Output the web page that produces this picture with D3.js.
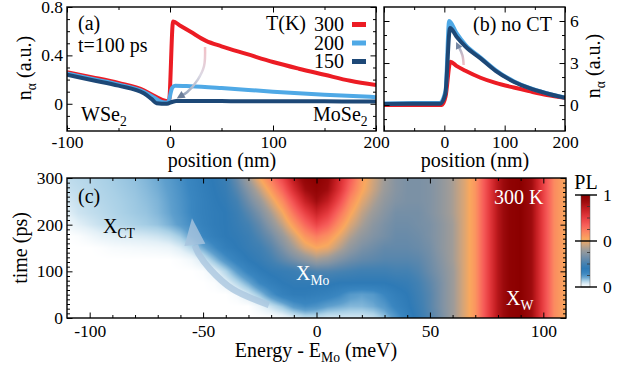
<!DOCTYPE html>
<html lang="en">
<head>
<meta charset="UTF-8">
<title>Exciton density and PL map</title>
<script src="https://d3js.org/d3.v7.min.js"></script>
<style>
  body { margin: 0; background: #fff; }
  svg { font-family: "Liberation Serif", "Times New Roman", serif; }
  .frame { fill: none; stroke: #000; stroke-width: 1.4px; }
  .ax text { font-size: 17.5px; fill: #000; }
  .ax line { stroke: #000; stroke-width: 1px; }
</style>
</head>
<body>
<svg id="fig" width="623" height="366"></svg>
<script>
// ---------- panel (a): density at t = 100 ps (with charge transfer) ----------
const posA300 = [-100, -75, -50, -25, -15, -5, -1, 3, 10, 20, 35, 50, 75, 100, 125, 150, 175, 200];
const nA300   = [0.26, 0.218, 0.172, 0.11, 0.063, 0.025, 0.02, 0.68, 0.645, 0.595, 0.52, 0.475, 0.41, 0.345, 0.29, 0.24, 0.19, 0.155];
const posA200 = [-100, -75, -50, -25, -15, -8, -2, 2, 5, 20, 50, 100, 150, 200];
const nA200   = [0.25, 0.205, 0.16, 0.098, 0.05, 0.015, 0.01, 0.13, 0.15, 0.145, 0.13, 0.1, 0.075, 0.055];
const posA150 = [-100, -75, -50, -25, -18, -13, -3, 2, 6, 50, 100, 150, 200];
const nA150   = [0.24, 0.195, 0.15, 0.085, 0.04, 0.005, 0.0, 0.015, 0.022, 0.022, 0.02, 0.02, 0.018];

// ---------- panel (b): no charge transfer ----------
const posB300 = [-100, -50, -4, 2, 10, 20, 35, 60, 85, 115, 140, 170, 200];
const nB300   = [0.0, 0.0, 0.0, 0.6, 3.1, 2.8, 2.45, 1.95, 1.58, 1.25, 1.0, 0.72, 0.52];
const posB200 = [-100, -50, -8, 2, 8, 20, 35, 60, 85, 115, 140, 170, 200];
const nB200   = [0.12, 0.14, 0.15, 1.0, 6.0, 5.15, 4.3, 3.4, 2.5, 1.7, 1.24, 0.85, 0.53];
const posB150 = [-100, -50, -7, 1.5, 9.5, 20, 35, 60, 85, 115, 140, 170, 200];
const nB150   = [0.08, 0.1, 0.1, 0.75, 5.5, 4.9, 4.18, 3.33, 2.44, 1.67, 1.22, 0.83, 0.52];

const temps = ["300", "200", "150"];
const tempColors = ["#ec1c24", "#4fa9e6", "#1d4877"];

// ---------- panel (c): PL map at 300 K ----------
const energies = d3.range(-110, 110.1, 5);          // meV, 45 columns
const times = [0, 25, 50, 75, 100, 125, 150, 175, 200, 225, 250, 275, 300]; // ps
const plRows = [
  // t = 0
  [0,0,0,0,0,0,0,0,0,0,0,0,0,0,0,0, 0,0,0,0.01,0.03,0.05,0.05,0.04,0.04,0.04,0.04,0.05,0.08,0.12, 0.17,0.22,0.27,0.33,0.4,0.48,0.56,0.72,0.88,0.98,1.0,0.92,0.74,0.58,0.52],
  // t = 25
  [0,0,0,0,0,0,0,0,0,0,0,0,0,0,0,0, 0,0.02,0.05,0.08,0.12,0.14,0.13,0.11,0.1,0.09,0.09,0.1,0.12,0.16, 0.19,0.23,0.28,0.34,0.4,0.48,0.56,0.72,0.88,0.98,1.0,0.92,0.74,0.58,0.52],
  // t = 50
  [0,0,0,0,0,0,0,0,0,0,0,0,0,0,0,0.01, 0.04,0.08,0.13,0.17,0.19,0.19,0.18,0.17,0.15,0.12,0.11,0.12,0.15,0.18, 0.2,0.24,0.28,0.34,0.4,0.48,0.56,0.72,0.88,0.98,1.0,0.92,0.74,0.58,0.52],
  // t = 75
  [0,0,0,0,0,0,0,0,0,0,0,0,0,0.005,0.025,0.06, 0.1,0.15,0.18,0.2,0.21,0.21,0.21,0.21,0.2,0.2,0.2,0.2,0.2,0.21, 0.22,0.25,0.29,0.34,0.4,0.48,0.56,0.72,0.88,0.98,1.0,0.92,0.74,0.58,0.52],
  // t = 100
  [0,0,0,0,0,0,0,0,0,0,0,0,0.005,0.025,0.065,0.115, 0.16,0.19,0.21,0.22,0.23,0.25,0.27,0.27,0.26,0.25,0.24,0.24,0.24,0.25, 0.25,0.27,0.31,0.35,0.4,0.48,0.56,0.72,0.88,0.98,1.0,0.92,0.74,0.58,0.52],
  // t = 125
  [0,0,0,0,0,0,0,0,0,0,0.005,0.015,0.04,0.085,0.13,0.17, 0.2,0.22,0.25,0.29,0.33,0.37,0.41,0.39,0.35,0.32,0.3,0.29,0.28,0.28, 0.28,0.29,0.32,0.36,0.41,0.48,0.56,0.72,0.88,0.98,1.0,0.92,0.74,0.58,0.52],
  // t = 150
  [0,0,0,0.003,0.008,0.01,0.012,0.014,0.016,0.02,0.035,0.06,0.1,0.14,0.18,0.2, 0.22,0.24,0.28,0.34,0.41,0.48,0.52,0.5,0.44,0.38,0.34,0.32,0.3,0.3, 0.3,0.31,0.33,0.37,0.41,0.48,0.56,0.72,0.88,0.98,1.0,0.92,0.74,0.58,0.52],
  // t = 175
  [0,0.005,0.015,0.025,0.03,0.035,0.037,0.04,0.045,0.055,0.075,0.11,0.15,0.18,0.2,0.21, 0.23,0.27,0.32,0.39,0.47,0.56,0.61,0.57,0.5,0.43,0.38,0.35,0.33,0.31, 0.31,0.32,0.34,0.37,0.41,0.48,0.56,0.72,0.88,0.98,1.0,0.92,0.74,0.58,0.52],
  // t = 200
  [0.015,0.03,0.04,0.05,0.058,0.063,0.068,0.073,0.08,0.095,0.115,0.14,0.17,0.19,0.2,0.22, 0.25,0.3,0.37,0.45,0.55,0.65,0.73,0.67,0.57,0.48,0.42,0.37,0.34,0.32, 0.32,0.33,0.34,0.37,0.41,0.48,0.56,0.72,0.88,0.98,1.0,0.92,0.74,0.58,0.52],
  // t = 225
  [0.03,0.045,0.052,0.058,0.064,0.07,0.075,0.08,0.09,0.105,0.125,0.15,0.175,0.19,0.2,0.23, 0.28,0.34,0.42,0.51,0.63,0.74,0.83,0.76,0.64,0.53,0.45,0.4,0.36,0.33, 0.33,0.33,0.35,0.38,0.42,0.48,0.56,0.72,0.88,0.98,1.0,0.92,0.74,0.58,0.52],
  // t = 250
  [0.04,0.05,0.056,0.062,0.067,0.072,0.077,0.084,0.093,0.108,0.128,0.15,0.175,0.195,0.21,0.25, 0.32,0.39,0.48,0.58,0.71,0.84,0.92,0.85,0.72,0.58,0.49,0.43,0.38,0.35, 0.34,0.34,0.35,0.38,0.42,0.48,0.56,0.72,0.88,0.98,1.0,0.92,0.74,0.58,0.52],
  // t = 275
  [0.05,0.055,0.06,0.065,0.07,0.075,0.08,0.088,0.098,0.112,0.132,0.155,0.18,0.2,0.22,0.28, 0.36,0.45,0.55,0.66,0.8,0.92,0.97,0.92,0.79,0.64,0.53,0.46,0.4,0.36, 0.34,0.34,0.35,0.38,0.42,0.48,0.56,0.72,0.88,0.98,1.0,0.92,0.74,0.58,0.52],
  // t = 300
  [0.055,0.06,0.063,0.068,0.073,0.078,0.083,0.092,0.102,0.117,0.137,0.16,0.185,0.205,0.23,0.31, 0.41,0.52,0.62,0.73,0.87,0.97,1.0,0.95,0.82,0.68,0.55,0.47,0.41,0.36, 0.34,0.34,0.35,0.38,0.42,0.48,0.56,0.72,0.88,0.98,1.0,0.92,0.74,0.58,0.52]
];

// colour map of the PL panel
const cmapStops  = [0, 0.03, 0.07, 0.11, 0.15, 0.2, 0.25, 0.3, 0.35, 0.41, 0.47, 0.52, 0.6, 0.68, 0.76, 0.85, 0.93, 1];
const cmapColors = ["#ffffff", "#e3f0f7", "#a9d0e6", "#5e9fcd", "#3a86c0", "#2e7ab6", "#4381b2", "#6389aa", "#8193a4",
                    "#a09c98", "#d2a47a", "#f9a85e", "#fb8360", "#f65b58", "#e53a3e", "#c41e22", "#9c0a0c", "#8b0000"];
const plColor = d3.scaleLinear().domain(cmapStops).range(cmapColors).clamp(true);

const svg = d3.select("#fig");
const defs = svg.append("defs");

const xA = d3.scaleLinear().domain([-100, 200]).range([67, 376]);
const yA = d3.scaleLinear().domain([-0.225, 0.8]).range([131, 7]);
const xB = d3.scaleLinear().domain([-100, 200]).range([384, 565]);
const yB = d3.scaleLinear().domain([-1.85, 7]).range([131, 7]);
const xC = d3.scaleLinear().domain([-110, 110]).range([67, 566]);
const yC = d3.scaleLinear().domain([0, 300]).range([318, 178]);

const fmt = d => String(d);

// inward ticks on all four sides of a frame
function frame(x, y, o) {
  const [x0, x1] = x.range(), [y0, y1] = [y.range()[1], y.range()[0]];
  const g = svg.append("g").attr("class", "ax");
  const sides = [
    [d3.axisBottom, x, y1, o.xMajor, o.xMinor, o.xLabels ? fmt : "", o.xPad, true],
    [d3.axisTop, x, y0, o.xMajor, o.xMinor, "", 0, true],
    [d3.axisLeft, y, x0, o.yMajor, o.yMinor, o.yLeft ? fmt : "", 4, false],
    [d3.axisRight, y, x1, o.yMajor, o.yMinor, o.yRight ? fmt : "", 5, false]
  ];
  sides.forEach(([ax, sc, off, major, minor, f, pad, horiz]) => {
    const tr = horiz ? `translate(0,${off})` : `translate(${off},0)`;
    g.append("g").attr("transform", tr)
      .call(ax(sc).tickValues(minor).tickSize(-3).tickFormat(""))
      .call(s => s.select(".domain").remove())
      .call(s => s.selectAll("text").remove());
    const m = g.append("g").attr("transform", tr)
      .call(ax(sc).tickValues(major).tickSize(-5.5).tickPadding(pad).tickFormat(f))
      .call(s => s.select(".domain").remove());
    m.attr("font-size", null).attr("font-family", null);
    if (f === "") m.selectAll("text").remove();
    if (o.hideLabels) m.selectAll("text").filter(d => o.hideLabels.includes(d)).remove();
  });
  svg.append("rect").attr("class", "frame")
    .attr("x", x0).attr("y", y0).attr("width", x1 - x0).attr("height", y1 - y0);
}

function clip(id, x, y) {
  defs.append("clipPath").attr("id", id).append("rect")
    .attr("x", x.range()[0]).attr("y", y.range()[1])
    .attr("width", x.range()[1] - x.range()[0]).attr("height", y.range()[0] - y.range()[1]);
}

function text(x, y, str, size, opt = {}) {
  const t = svg.append("text").attr("x", x).attr("y", y).attr("font-size", size)
    .attr("fill", opt.fill || "#000").style("white-space", "pre");
  if (opt.anchor) t.attr("text-anchor", opt.anchor);
  if (opt.transform) t.attr("transform", opt.transform);
  (Array.isArray(str) ? str : [[str]]).forEach(([s, kind]) => {
    const sp = t.append("tspan").text(s);
    if (kind === "sub") sp.attr("font-size", size * 0.68).attr("dy", size * 0.25);
    if (kind === "up") sp.attr("dy", -size * 0.25);
  });
  return t;
}

function arrowHead(g, tip, from, len, hw, fill) {
  const dx = tip[0] - from[0], dy = tip[1] - from[1], L = Math.hypot(dx, dy);
  const ux = dx / L, uy = dy / L;
  const bx = tip[0] - ux * len, by = tip[1] - uy * len;
  g.append("path").attr("fill", fill)
    .attr("d", `M${tip[0]},${tip[1]}L${bx - uy * hw},${by + ux * hw}L${bx + uy * hw},${by - ux * hw}Z`);
}

// ================= panel (a) =================
clip("clipA", xA, yA);
const lineA = d3.line().x(d => xA(d[0])).y(d => yA(d[1])).curve(d3.curveMonotoneX);
const gA = svg.append("g").attr("clip-path", "url(#clipA)");
[[posA300, nA300], [posA200, nA200], [posA150, nA150]].forEach(([p, n], i) => {
  gA.append("path").attr("fill", "none").attr("stroke", tempColors[i]).attr("stroke-width", 4)
    .attr("stroke-linejoin", "round").attr("d", lineA(d3.zip(p, n)));
});

// faded transfer arrow (a)
const arrA = [[34, 0.47], [33, 0.31], [27, 0.2], [16.5, 0.095], [10.5, 0.065]].map(d => [xA(d[0]), yA(d[1])]);
const gradA = defs.append("linearGradient").attr("id", "gradA").attr("gradientUnits", "userSpaceOnUse")
  .attr("x1", arrA[0][0]).attr("y1", arrA[0][1]).attr("x2", arrA[4][0]).attr("y2", arrA[4][1]);
gradA.append("stop").attr("offset", 0).attr("stop-color", "#f3c0c6");
gradA.append("stop").attr("offset", 0.5).attr("stop-color", "#dcd9e4");
gradA.append("stop").attr("offset", 1).attr("stop-color", "#8f9fb8");
svg.append("path").attr("fill", "none").attr("stroke", "url(#gradA)").attr("stroke-width", 2.5)
  .attr("d", d3.line().curve(d3.curveCatmullRom)(arrA));
arrowHead(svg, [xA(6.5), yA(0.043)], arrA[3], 8, 4, "#6d7f9b");

frame(xA, yA, {
  xMajor: [-100, 0, 100, 200], xMinor: [-50, 50, 150], xLabels: true, xPad: 5,
  yMajor: [0, 0.4, 0.8], yMinor: [-0.2, -0.1, 0.1, 0.2, 0.3, 0.5, 0.6, 0.7], yLeft: true
});

text(78, 30, "(a)", 20);
text(78, 52, "t=100 ps", 20);
text(81, 121, [["WSe"], ["2", "sub"]], 20);
text(313, 121, [["MoSe"], ["2", "sub"]], 20);
text(306, 30, "T(K)", 20, { anchor: "end" });
temps.forEach((t, i) => {
  const yy = [24.5, 43, 61.5][i];
  text(344, yy + 6.5, t, 20, { anchor: "end" });
  svg.append("line").attr("x1", 352).attr("x2", 366).attr("y1", yy).attr("y2", yy)
    .attr("stroke", tempColors[i]).attr("stroke-width", 5);
});
text(222, 167, "position (nm)", 20, { anchor: "middle" });
text(0, 0, [["n"], ["α", "sub"], [" (a.u.)", "up"]], 20,
  { anchor: "middle", transform: "translate(31,68) rotate(-90)" });

// ================= panel (b) =================
clip("clipB", xB, yB);
const lineB = d3.line().x(d => xB(d[0])).y(d => yB(d[1])).curve(d3.curveMonotoneX);
const gB = svg.append("g").attr("clip-path", "url(#clipB)");
[[posB300, nB300], [posB200, nB200], [posB150, nB150]].forEach(([p, n], i) => {
  gB.append("path").attr("fill", "none").attr("stroke", tempColors[i]).attr("stroke-width", 4)
    .attr("stroke-linejoin", "round").attr("d", lineB(d3.zip(p, n)));
});
const arrB = [[32, 2.86], [30, 3.55], [24, 4.15]].map(d => [xB(d[0]), yB(d[1])]);
const gradB = defs.append("linearGradient").attr("id", "gradB").attr("gradientUnits", "userSpaceOnUse")
  .attr("x1", arrB[0][0]).attr("y1", arrB[0][1]).attr("x2", arrB[2][0]).attr("y2", arrB[2][1]);
gradB.append("stop").attr("offset", 0).attr("stop-color", "#f3c0c6");
gradB.append("stop").attr("offset", 1).attr("stop-color", "#a8b4c8");
svg.append("path").attr("fill", "none").attr("stroke", "url(#gradB)").attr("stroke-width", 2.5)
  .attr("d", d3.line().curve(d3.curveCatmullRom)(arrB));
arrowHead(svg, [xB(19.5), yB(4.5)], arrB[1], 7, 3.5, "#7486a2");

frame(xB, yB, {
  xMajor: [-100, 0, 100, 200], xMinor: [-50, 50, 150], xLabels: true, xPad: 5, hideLabels: [-100],
  yMajor: [0, 3, 6], yMinor: [-1, 1, 2, 4, 5], yRight: true
});
text(473, 31, "(b) no CT", 20);
text(475, 167, "position (nm)", 20, { anchor: "middle" });
text(0, 0, [["n"], ["α", "sub"], [" (a.u.)", "up"]], 20,
  { anchor: "middle", transform: "translate(600,66) rotate(-90)" });

// ================= panel (c) =================
const [cx0, cx1] = xC.range(), [cy0, cy1] = [yC.range()[1], yC.range()[0]];
const cw = Math.round(cx1 - cx0), ch = Math.round(cy1 - cy0);
const canvas = document.createElement("canvas");
canvas.width = cw; canvas.height = ch;
const ctx = canvas.getContext("2d");
const img = ctx.createImageData(cw, ch);
function plAt(E, t) {
  const fi = Math.max(0, Math.min(energies.length - 1.0001, (E - energies[0]) / 5));
  const fj = Math.max(0, Math.min(times.length - 1.0001, t / 25));
  const i = Math.floor(fi), j = Math.floor(fj), a = fi - i, b = fj - j;
  const r0 = plRows[j], r1 = plRows[j + 1];
  return (1 - b) * ((1 - a) * r0[i] + a * r0[i + 1]) + b * ((1 - a) * r1[i] + a * r1[i + 1]);
}
for (let py = 0; py < ch; py++) {
  const t = yC.invert(cy0 + py + 0.5);
  for (let px = 0; px < cw; px++) {
    const c = d3.rgb(plColor(plAt(xC.invert(cx0 + px + 0.5), t)));
    const k = (py * cw + px) * 4;
    img.data[k] = c.r; img.data[k + 1] = c.g; img.data[k + 2] = c.b; img.data[k + 3] = 255;
  }
}
ctx.putImageData(img, 0, 0);
svg.append("image").attr("href", canvas.toDataURL()).attr("x", cx0).attr("y", cy0)
  .attr("width", cx1 - cx0).attr("height", cy1 - cy0).attr("preserveAspectRatio", "none");

// relaxation arrow
const gArr = svg.append("g").attr("opacity", 0.8);
const arrC = [[-21, 28], [-37, 62], [-47, 105], [-52, 138], [-53.6, 156]].map(d => [xC(d[0]), yC(d[1])]);
gArr.append("path").attr("fill", "none").attr("stroke", "#a9c5df").attr("stroke-width", 6.5)
  .attr("d", d3.line().curve(d3.curveCatmullRom)(arrC));
arrowHead(gArr, [xC(-54.9), yC(214)], arrC[4], 27, 10.5, "#a9c5df");

frame(xC, yC, {
  xMajor: [-100, -50, 0, 50, 100], xMinor: d3.range(-100, 110, 10).filter(d => d % 50 !== 0), xLabels: true, xPad: 7,
  yMajor: [0, 100, 200, 300], yMinor: d3.range(10, 300, 10).filter(d => d % 100 !== 0), yLeft: true
});
text(78, 203, "(c)", 20);
text(103, 233, [["X"], ["CT", "sub"]], 20);
text(296, 280, [["X"], ["Mo", "sub"]], 20, { fill: "#fff" });
text(494, 204, "300 K", 20, { fill: "#fff" });
text(506, 305, [["X"], ["W", "sub"]], 20, { fill: "#fff" });
text(316, 357, [["Energy - E"], ["Mo", "sub"], [" (meV)", "up"]], 20, { anchor: "middle" });
text(0, 0, "time (ps)", 20, { anchor: "middle", transform: "translate(27,248) rotate(-90)" });

// colour bar
const cbX = 581, cbW = 9, cbTop = 195, cbBot = 287;
const grad = defs.append("linearGradient").attr("id", "cbar").attr("x1", 0).attr("y1", 1).attr("x2", 0).attr("y2", 0);
d3.range(0, 1.001, 0.02).forEach(v => grad.append("stop").attr("offset", v).attr("stop-color", plColor(v)));
svg.append("rect").attr("x", cbX).attr("y", cbTop).attr("width", cbW).attr("height", cbBot - cbTop)
  .attr("fill", "url(#cbar)").attr("stroke", "#555").attr("stroke-width", 0.5);
const cbLevels = [cbTop, (cbTop + cbBot) / 2, cbBot];
cbLevels.forEach(yy => svg.append("line").attr("x1", 575).attr("x2", 597).attr("y1", yy).attr("y2", yy)
  .attr("stroke", "#000").attr("stroke-width", 1.4));
[0.25, 0.5, 0.75, 1.25, 1.5, 1.75].forEach(f => {
  const yy = cbTop + f * (cbBot - cbTop) / 2;
  svg.append("line").attr("x1", cbX + cbW - 3).attr("x2", cbX + cbW).attr("y1", yy).attr("y2", yy)
    .attr("stroke", "#333").attr("stroke-width", 0.8);
});
["1", "0", "0"].forEach((s, i) => text(603, cbLevels[i] + 6, s, 17.5));
text(586, 189, "PL", 20, { anchor: "middle" });
</script>
</body>
</html>
